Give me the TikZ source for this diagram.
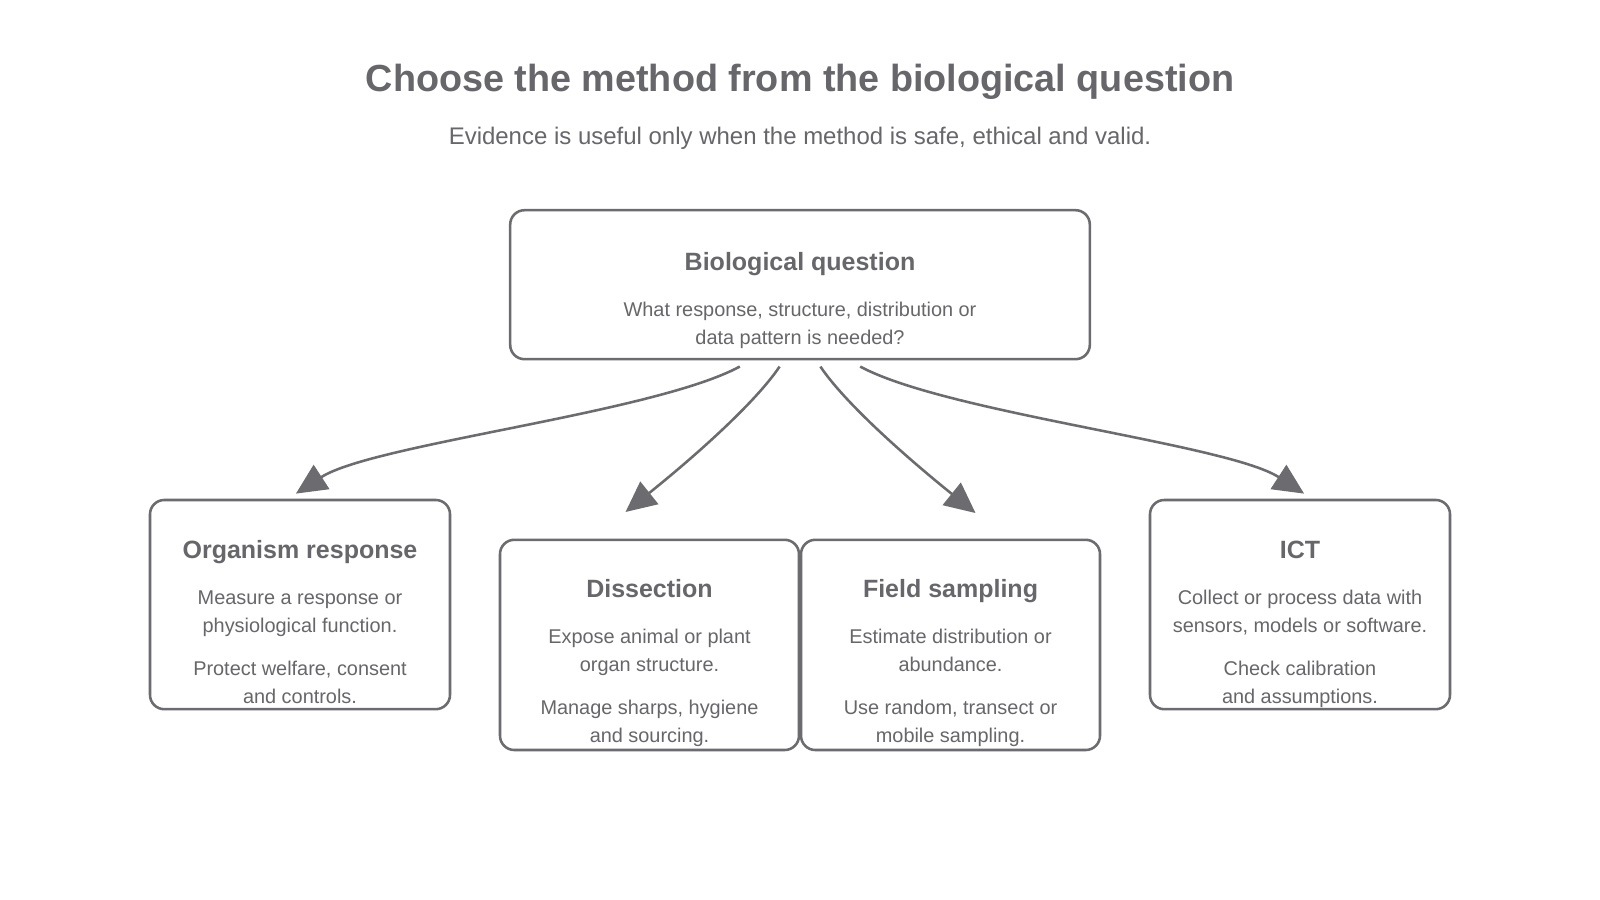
\documentclass[tikz,border=0pt]{standalone}
\usepackage{fontspec}
\setmainfont{Liberation Sans}
\usetikzlibrary{arrows.meta,calc}
\definecolor{ink}{HTML}{6B6B70}
\definecolor{txt}{HTML}{66666B}
\begin{document}
\begin{tikzpicture}[x=1pt,y=-1pt,
  box/.style={draw=ink, line width=2.5pt, rounded corners=14pt, inner sep=0pt, fill=white},
  ttl/.style={text=txt, font=\fontsize{37}{44}\selectfont\bfseries, anchor=base, inner sep=0pt},
  sub/.style={text=txt, font=\fontsize{23.5}{28}\selectfont, anchor=base, inner sep=0pt},
  head/.style={text=txt, font=\fontsize{24.5}{29}\selectfont\bfseries, anchor=base, inner sep=0pt},
  body/.style={text=txt, font=\fontsize{19.5}{24}\selectfont, anchor=base, inner sep=0pt},
  arr/.style={draw=ink, line width=2.5pt, -{Triangle[length=30pt, width=28pt]}}]
\useasboundingbox[fill=white] (0,0) rectangle (1568,882);

\node[ttl] (title) at (784,90) {Choose the method from the biological question};
\node[sub] (subtitle) at (784,142) {Evidence is useful only when the method is safe, ethical and valid.};

% boxes
\node[box, minimum width=568pt, minimum height=146pt] (bq) at (784,279) {};
\node[box, minimum width=294pt, minimum height=205pt] (org) at (294,592.5) {};
\node[box, minimum width=293pt, minimum height=206pt] (dis) at (636.5,632) {};
\node[box, minimum width=293pt, minimum height=206pt] (fs) at (931.5,632) {};
\node[box, minimum width=294pt, minimum height=205pt] (ict) at (1274,592.5) {};

% texts
\node[head] (bqh) at (784,265) {Biological question};
\node[body] (bq1) at (784,310) {What response, structure, distribution or};
\node[body] (bq2) at (784,337.5) {data pattern is needed?};

\node[head] (orgh) at (294,547) {Organism response};
\node[body] (org1) at (294,592) {Measure a response or};
\node[body] (org2) at (294,619.5) {physiological function.};
\node[body] (org3) at (294,661.5) {Protect welfare, consent};
\node[body] (org4) at (294,689) {and controls.};

\node[head] (dish) at (636.5,586) {Dissection};
\node[body] (dis1) at (636.5,631) {Expose animal or plant};
\node[body] (dis2) at (636.5,658.5) {organ structure.};
\node[body] (dis3) at (636.5,700.5) {Manage sharps, hygiene};
\node[body] (dis4) at (636.5,728) {and sourcing.};

\node[head] (fsh) at (931.5,586) {Field sampling};
\node[body] (fs1) at (931.5,631) {Estimate distribution or};
\node[body] (fs2) at (931.5,658.5) {abundance.};
\node[body] (fs3) at (931.5,700.5) {Use random, transect or};
\node[body] (fs4) at (931.5,728) {mobile sampling.};

\node[head] (icth) at (1274,547) {ICT};
\node[body] (ict1) at (1274,592) {Collect or process data with};
\node[body] (ict2) at (1274,619.5) {sensors, models or software.};
\node[body] (ict3) at (1274,661.5) {Check calibration};
\node[body] (ict4) at (1274,689) {and assumptions.};

% arrows
\draw[arr] ($(bq.south)+(-59,6)$) .. controls (640,405) and (365,435) .. ($(org.north)+(-4,-5)$);
\draw[arr] ($(bq.south)+(-20,6)$) .. controls (740,395) and (680,448) .. ($(dis.north)+(-23.5,-26)$);
\draw[arr] ($(bq.south)+(20,6)$) .. controls (828,395) and (888,448) .. ($(fs.north)+(24.5,-25)$);
\draw[arr] ($(bq.south)+(59,6)$) .. controls (928,405) and (1203,435) .. ($(ict.north)+(4,-5)$);
\end{tikzpicture}
\end{document}
